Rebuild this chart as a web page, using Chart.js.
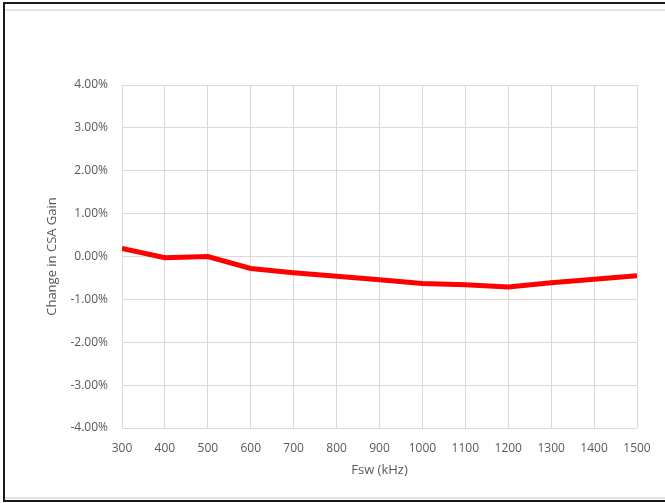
<!DOCTYPE html>
<html>
<head>
<meta charset="utf-8">
<script src="https://cdn.jsdelivr.net/npm/chart.js@4/dist/chart.umd.min.js"></script>
<style>
html,body{margin:0;padding:0;background:#fff;}
#wrap{position:relative;width:665px;height:503px;}
</style>
</head>
<body>
<div id="wrap"><canvas id="c" width="665" height="503"></canvas></div>
<script>
const fswKHz = [300, 400, 500, 600, 700, 800, 900, 1000, 1100, 1200, 1300, 1400, 1500];
const gainChangePct = [0.19, -0.03, 0.00, -0.28, -0.38, -0.46, -0.54, -0.63, -0.66, -0.71, -0.61, -0.53, -0.45];
const yTicks = [-4, -3, -2, -1, 0, 1, 2, 3, 4];
const xTitle = 'Fsw (kHz)';
const yTitle = 'Change in CSA Gain';

const frame = {
  id: 'frame',
  beforeDraw(chart) {
    const ctx = chart.ctx;
    ctx.save();
    ctx.fillStyle = '#fff';
    ctx.fillRect(0, 0, chart.width, chart.height);
    ctx.strokeStyle = '#e3e3e3';
    ctx.lineWidth = 2;
    ctx.beginPath();
    ctx.moveTo(4, 10); ctx.lineTo(665, 10);
    ctx.moveTo(4, 498); ctx.lineTo(665, 498);
    ctx.stroke();
    ctx.strokeStyle = '#1a1a1a';
    ctx.lineWidth = 2;
    ctx.beginPath();
    ctx.moveTo(3, 3); ctx.lineTo(665, 3);
    ctx.moveTo(4, 3); ctx.lineTo(4, 501);
    ctx.moveTo(3, 501); ctx.lineTo(665, 501);
    ctx.stroke();
    ctx.restore();
  }
};

const font = {family: "'Open Sans', 'Liberation Sans', sans-serif", size: 12};
const titleFont = {family: "'Open Sans', 'Liberation Sans', sans-serif", size: 13};

new Chart(document.getElementById('c'), {
  type: 'line',
  data: {
    datasets: [{
      data: fswKHz.map((x, i) => ({x: x, y: gainChangePct[i]})),
      borderColor: '#ff0000',
      borderWidth: 5,
      pointRadius: 0,
      tension: 0,
      fill: false
    }]
  },
  options: {
    responsive: false,
    animation: false,
    devicePixelRatio: 1,
    layout: {padding: {left: 44, right: 28, top: 85, bottom: 25}},
    plugins: {legend: {display: false}, tooltip: {enabled: false}},
    scales: {
      x: {
        type: 'linear',
        min: 300, max: 1500,
        afterBuildTicks: s => { s.ticks = fswKHz.map(v => ({value: v})); },
        afterFit: s => { s.height = 50; },
        grid: {color: '#d9d9d9', lineWidth: 1, drawTicks: false},
        border: {display: false},
        ticks: {color: '#595959', font: font, padding: 13, maxRotation: 0, autoSkip: false, callback: v => String(v)},
        title: {display: true, text: xTitle, color: '#595959', font: titleFont, padding: {top: 4, bottom: 0}}
      },
      y: {
        min: -4, max: 4,
        afterBuildTicks: s => { s.ticks = yTicks.map(v => ({value: v})); },
        afterFit: s => { s.width = 78; },
        grid: {color: '#d9d9d9', lineWidth: 1, drawTicks: false},
        border: {display: false},
        ticks: {color: '#595959', font: font, padding: 14, callback: v => v.toFixed(2) + '%'},
        title: {display: true, text: yTitle, color: '#595959', font: titleFont, padding: {top: 0, bottom: 0}}
      }
    }
  },
  plugins: [frame]
});
</script>
</body>
</html>
